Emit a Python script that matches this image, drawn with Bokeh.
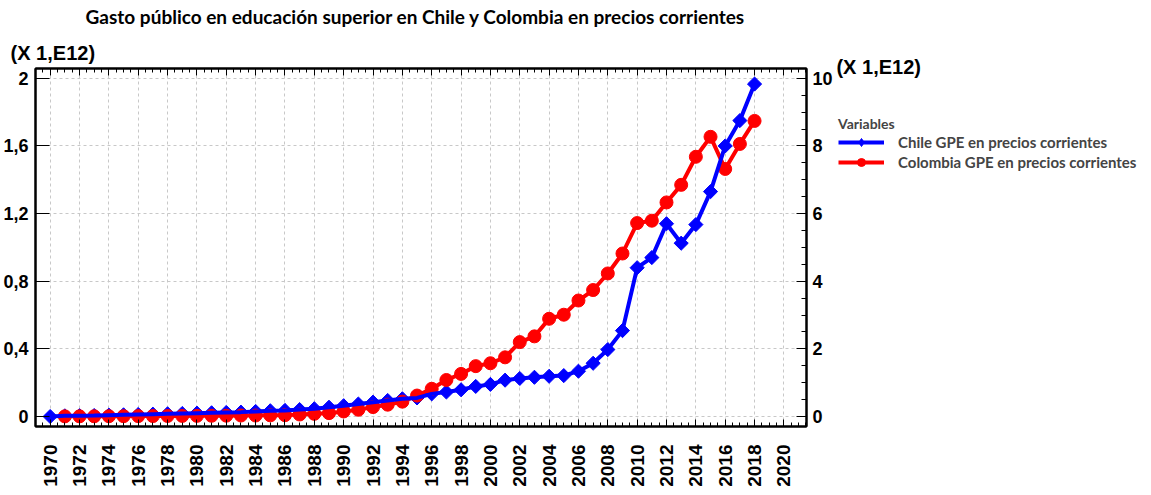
import math
from bokeh.plotting import figure
from bokeh.layouts import row
from bokeh.models import (LinearAxis, Range1d, SingleIntervalTicker, FixedTicker,
                          CustomJSTickFormatter, Legend, LegendItem, Label)
from bokeh.embed import file_html
from bokeh.resources import INLINE

# ---- data (x 1e12, current prices) ----
chile_years = list(range(1970, 2019))
chile_gpe = [0.0, 0.004, 0.005, 0.006, 0.008, 0.010, 0.012, 0.014, 0.016, 0.018,
             0.020, 0.022, 0.024, 0.026, 0.030, 0.034, 0.036, 0.041, 0.046, 0.055,
             0.064, 0.074, 0.085, 0.095, 0.105, 0.110, 0.134, 0.145, 0.158, 0.178,
             0.190, 0.215, 0.225, 0.232, 0.238, 0.242, 0.268, 0.315, 0.396, 0.508,
             0.880, 0.940, 1.140, 1.025, 1.135, 1.330, 1.600, 1.750, 1.966]

colombia_years = list(range(1971, 2019))
colombia_gpe = [0.005, 0.006, 0.007, 0.008, 0.010, 0.012, 0.014, 0.016, 0.018,
                0.020, 0.022, 0.025, 0.030, 0.030, 0.035, 0.040, 0.060, 0.080, 0.100,
                0.150, 0.200, 0.280, 0.350, 0.440, 0.620, 0.820, 1.080, 1.260, 1.490,
                1.575, 1.750, 2.200, 2.370, 2.890, 3.010, 3.430, 3.740, 4.230, 4.820,
                5.720, 5.790, 6.330, 6.850, 7.680, 8.270, 7.320, 8.060, 8.740]

left_ticks = [0, 0.4, 0.8, 1.2, 1.6, 2.0]
title_text = "Gasto público en educación superior en Chile y Colombia en precios corrientes"
scale_text = "(X 1,E12)"
legend_title = "Variables"
chile_label = "Chile GPE en precios corrientes"
colombia_label = "Colombia GPE en precios corrientes"

BLUE = "#0000ff"
RED = "#ff0000"
GRID = "#c8c8c8"
AX_FONT = "Liberation Sans"
TXT_FONT = "Lato"

# ================= main chart =================
p = figure(width=835, height=495, output_backend="svg", toolbar_location=None,
           title_location=None,
           x_range=Range1d(1969.0, 2021.54), y_range=Range1d(-0.059, 2.058),
           min_border_left=31, min_border_right=29, min_border_top=68,
           min_border_bottom=69)
p.extra_y_ranges = {"right": Range1d(-0.295, 10.29)}
p.outline_line_color = "black"
p.outline_line_width = 2
p.background_fill_color = "white"
p.border_fill_color = "white"


def style_axis(ax, size="18px"):
    ax.axis_line_width = 2
    ax.axis_label_standoff = 0
    ax.major_label_text_font = AX_FONT
    ax.major_label_text_font_style = "bold"
    ax.major_label_text_font_size = size
    ax.major_label_text_color = "black"
    ax.major_tick_out = 0
    ax.minor_tick_out = 0


# bottom axis
xa = p.xaxis[0]
style_axis(xa, "19px")
xa.ticker = SingleIntervalTicker(interval=2, num_minor_ticks=4)
xa.major_label_orientation = math.pi / 2
xa.major_tick_in = 7
xa.minor_tick_in = 4
xa.major_label_standoff = 18

# top axis (ticks only)
ta = LinearAxis(ticker=SingleIntervalTicker(interval=2, num_minor_ticks=4))
style_axis(ta, "1px")
ta.major_tick_in = 7
ta.minor_tick_in = 4
ta.major_label_text_color = None
ta.major_label_standoff = 0
p.add_layout(ta, "above")

# left axis
ya = p.yaxis[0]
style_axis(ya)
ya.ticker = FixedTicker(ticks=left_ticks)
ya.formatter = CustomJSTickFormatter(code="""
    if (Math.abs(tick - Math.round(tick)) < 1e-9) return Math.round(tick).toString();
    return tick.toFixed(1).replace('.', ',');
""")
ya.major_tick_in = 14
ya.minor_tick_line_color = None
ya.major_label_standoff = 7

# right axis
ra = LinearAxis(y_range_name="right",
                ticker=SingleIntervalTicker(interval=2, num_minor_ticks=4))
style_axis(ra)
ra.major_tick_in = 10
ra.minor_tick_in = 5
ra.major_label_standoff = 6
p.add_layout(ra, "right")

# grids
p.xgrid.ticker = SingleIntervalTicker(interval=2)
p.ygrid.ticker = FixedTicker(ticks=left_ticks)
for g in (p.xgrid, p.ygrid):
    g.grid_line_color = GRID
    g.grid_line_dash = "3 3"
    g.grid_line_width = 1

# series
p.scatter(chile_years, chile_gpe, marker="square", angle=math.pi / 4,
          size=10, color=BLUE)
p.line(colombia_years, colombia_gpe, y_range_name="right", color=RED, line_width=4)
p.scatter(colombia_years, colombia_gpe, y_range_name="right",
          marker="circle", size=13, color=RED)
p.line(chile_years, chile_gpe, color=BLUE, line_width=4)

# texts outside the frame: labels in the "above" panel, placed in data units
p.add_layout(Label(x=1994.9, y=2.364, text=title_text, text_align="center",
                   text_baseline="middle", text_font=TXT_FONT, text_font_style="bold",
                   text_font_size="19px", text_color="black"), "above")
p.add_layout(Label(x=1967.3, y=2.151, text=scale_text, text_align="left",
                   text_baseline="middle", text_font=AX_FONT, text_font_style="bold",
                   text_font_size="20px", text_color="black"), "above")

# ================= legend panel (frame aligned with main chart: y 68..426) =================
p2 = figure(width=316, height=495, output_backend="svg", toolbar_location=None,
            title_location=None, x_axis_location=None, y_axis_location=None,
            x_range=Range1d(0, 1), y_range=Range1d(0, 1), min_border=0)
p2.grid.visible = False
p2.outline_line_color = None
p2.background_fill_color = "white"
p2.border_fill_color = "white"

# same series, outside this panel's view: only used for the legend samples
s_line = p2.line(chile_years, chile_gpe, color=BLUE, line_width=4)
s_mark = p2.scatter(chile_years, chile_gpe, marker="diamond", color=BLUE)
c_line = p2.line(colombia_years, colombia_gpe, color=RED, line_width=4)
c_mark = p2.scatter(colombia_years, colombia_gpe, marker="circle", color=RED)

legend = Legend(items=[LegendItem(label=chile_label, renderers=[s_line, s_mark]),
                       LegendItem(label=colombia_label, renderers=[c_line, c_mark])],
                title=legend_title, location=(3, 254))
legend.background_fill_alpha = 0
legend.border_line_color = None
legend.padding = 0
legend.margin = 0
legend.glyph_width = 46
legend.glyph_height = 20
legend.label_height = 18
legend.label_standoff = 14
legend.spacing = 0
legend.title_standoff = 0
legend.label_text_font = TXT_FONT
legend.label_text_font_style = "bold"
legend.label_text_font_size = "15px"
legend.title_text_font = TXT_FONT
legend.title_text_font_style = "bold"
legend.title_text_font_size = "14px"
p2.add_layout(legend, "center")

p2.add_layout(Label(x=0.003, y=1.0028, text=scale_text, text_align="left",
                    text_baseline="middle", text_font=AX_FONT, text_font_style="bold",
                    text_font_size="20px", text_color="black"), "above")

layout = row(p, p2)
open("out.html", "w").write(file_html(layout, INLINE))
